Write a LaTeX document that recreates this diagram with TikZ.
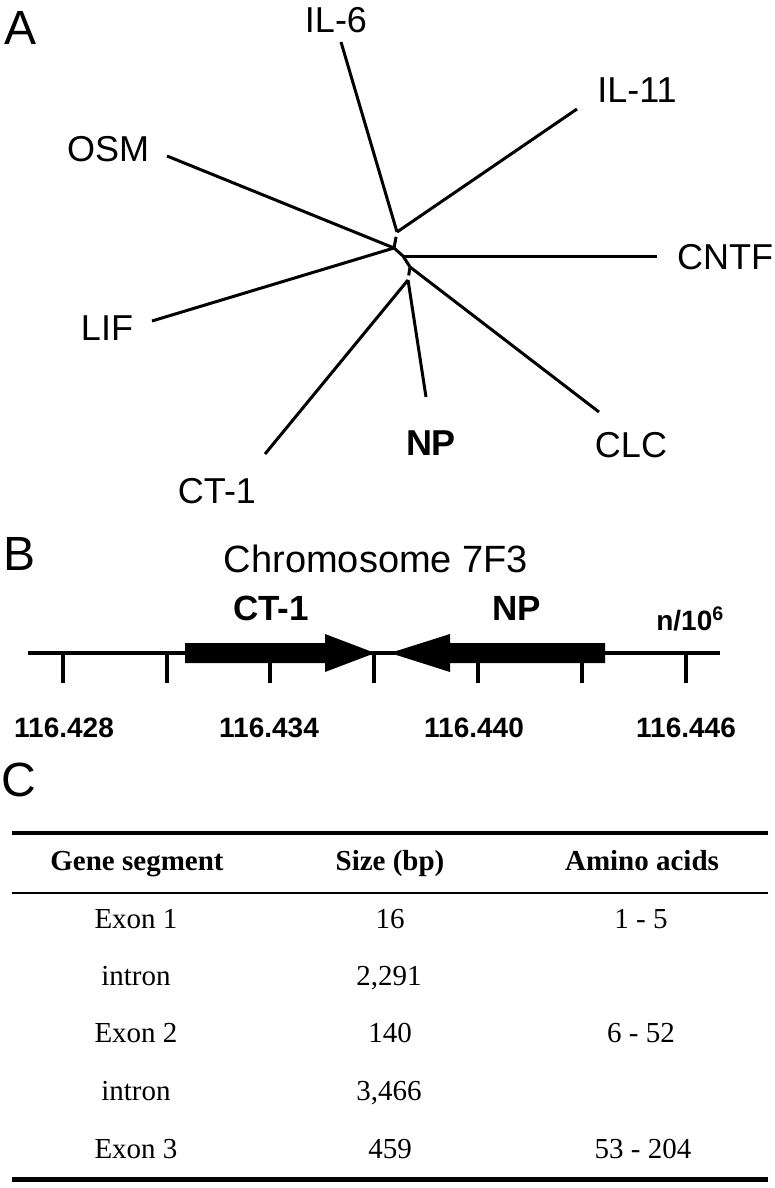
\documentclass[tikz,border=0pt]{standalone}
\usepackage{fontspec}
\setmainfont{Liberation Sans}
\newfontfamily\timesf{Liberation Serif}
\usetikzlibrary{calc}
\newcommand\fsz[1]{\fontsize{#1}{#1}\selectfont}
\begin{document}
\begin{tikzpicture}[x=1pt,y=-1pt,line cap=butt,
  treeline/.style={line width=3pt},
  chrline/.style={line width=4pt},
  leaf/.style={font=\fsz{36}, inner sep=0pt, anchor=base},
  panel/.style={font=\fsz{48}, inner sep=0pt, anchor=base},
  gene/.style={font=\fsz{35}\bfseries, inner sep=0pt, anchor=base},
  poslab/.style={font=\fsz{28}\bfseries, inner sep=0pt, anchor=base},
  thead/.style={font=\timesf\fsz{29}\bfseries, inner sep=0pt, anchor=base},
  tcell/.style={font=\timesf\fsz{29}, inner sep=0pt, anchor=base}]
\useasboundingbox (0,0) rectangle (775,1188);

% ---------------- Panel A: tree ----------------
\node[panel] (pA) at (21,45) {A};
\node[leaf] (lIL6) at (336,33) {IL-6};
\node[leaf] (lIL11) at (637,103) {IL-11};
\node[leaf] (lOSM) at (108,161) {OSM};
\node[leaf] (lCNTF) at (725,269) {CNTF};
\node[leaf] (lLIF) at (107,340) {LIF};
\node[leaf] (lCT) at (217,503) {CT-1};
\node[leaf,font=\fsz{36}\bfseries] (lNP) at (431,455) {NP};
\node[leaf] (lCLC) at (631,457) {CLC};

\coordinate (n1) at (397,232);
\coordinate (n2) at (394,248);
\coordinate (n3) at (403,256);
\coordinate (n4) at (410,267);
\coordinate (n5) at (408,280);
\coordinate (eIL6) at (341,42);
\coordinate (eIL11) at (577,109);
\coordinate (eOSM) at (167,156);
\coordinate (eLIF) at (152,321);
\coordinate (eCNTF) at (657,256);
\coordinate (eCLC) at (599,412);
\coordinate (eNP) at (426,397);
\coordinate (eCT) at (265,454);

\draw[treeline] (eIL6) -- (n1);
\draw[treeline] (eIL11) -- (n1);
\draw[treeline] ($(n1)!0.3!(n2)$) -- (n2);
\draw[treeline] (eOSM) -- (n2);
\draw[treeline] (eLIF) -- (n2);
\draw[treeline] (n2) -- (n3) -- (n4);
\draw[treeline] (n3) -- (eCNTF);
\draw[treeline] (n4) -- (eCLC);
\draw[treeline] ($(n4)!0.05!(n5)$) -- ($(n4)!0.65!(n5)$);
\draw[treeline] (n5) -- (eNP);
\draw[treeline] (n5) -- (eCT);

% ---------------- Panel B: chromosome ----------------
\node[panel] (pB) at (20,570) {B};
\node[font=\fsz{38}, inner sep=0pt, anchor=base] (chr) at (376,572) {Chromosome 7F3};
\node[gene] (gCT) at (271,620) {CT-1};
\node[gene] (gNP) at (517,620) {NP};
\node[font=\fsz{28}\bfseries, inner sep=0pt, anchor=base] (unit) at (690,630) {n/10\textsuperscript{6}};

\coordinate (chrL) at (28,653);
\coordinate (chrR) at (720,653);
\draw[chrline] (chrL) -- (chrR);
\foreach \x in {63,167,270,374,478,582,686}
  \draw[chrline] (\x,653) -- (\x,683);
\fill (185,643) -- (325,643) -- (325,634) -- (375,653) -- (325,672) -- (325,663) -- (185,663) -- cycle;
\fill (605,643) -- (450,643) -- (450,634) -- (390,653) -- (450,672) -- (450,663) -- (605,663) -- cycle;

\node[poslab] (t1) at (64,737) {116.428};
\node[poslab] (t2) at (269,737) {116.434};
\node[poslab] (t3) at (474,737) {116.440};
\node[poslab] (t4) at (686,737) {116.446};

% ---------------- Panel C: table ----------------
\node[panel] (pC) at (19,796) {C};
\draw[line width=4pt] (12,833) -- (768,833);
\draw[line width=2.5pt] (12,893) -- (768,893);
\draw[line width=5pt] (12,1179) -- (768,1179);

\node[thead] (h1) at (137,870) {Gene segment};
\node[thead] (h2) at (390,870) {Size (bp)};
\node[thead] (h3) at (642,870) {Amino acids};

\node[tcell] (r1a) at (136,928) {Exon 1};
\node[tcell] (r1b) at (390,928) {16};
\node[tcell] (r1c) at (641,928) {1 - 5};
\node[tcell] (r2a) at (136,985) {intron};
\node[tcell] (r2b) at (389,985) {2,291};
\node[tcell] (r3a) at (136,1042) {Exon 2};
\node[tcell] (r3b) at (390,1042) {140};
\node[tcell] (r3c) at (641,1042) {6 - 52};
\node[tcell] (r4a) at (136,1100) {intron};
\node[tcell] (r4b) at (389,1100) {3,466};
\node[tcell] (r5a) at (136,1158) {Exon 3};
\node[tcell] (r5b) at (390,1158) {459};
\node[tcell] (r5c) at (643,1158) {53 - 204};
\end{tikzpicture}
\end{document}
